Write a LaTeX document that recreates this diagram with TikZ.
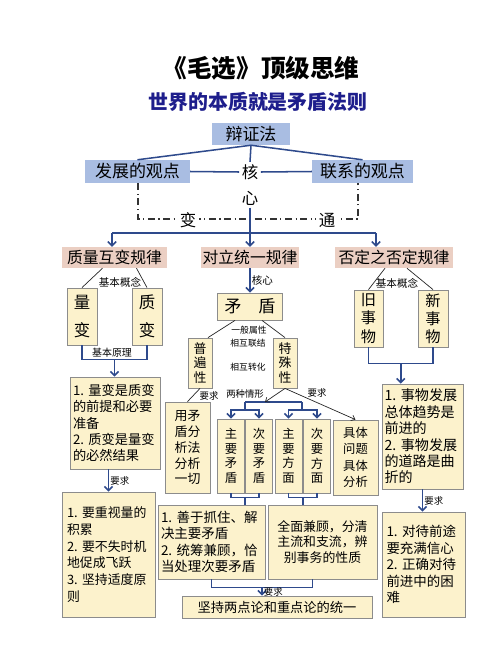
\documentclass[tikz,border=0pt]{standalone}
\usepackage{fontspec}
\setmainfont{Noto Sans CJK SC}
\usetikzlibrary{calc,arrows.meta}

\definecolor{xianlan}{HTML}{2E4A8C}
\definecolor{kuanglan}{HTML}{A9BDE2}
\definecolor{kuangfen}{HTML}{EBCFC3}
\definecolor{kuanghuang}{HTML}{FCF2CC}
\definecolor{bianhui}{HTML}{8C8C8C}
\definecolor{zilan}{HTML}{1E1E8C}
\newcommand{\zsz}[2]{\fontsize{#1}{#2}\selectfont}

\begin{document}
\begin{tikzpicture}[x=0.03cm, y=-0.03cm,
    chicun/.style 2 args={minimum width=#1*0.03cm, minimum height=#2*0.03cm},
    wenzi/.style={text width=#1*0.03cm, align=left},
    lan/.style={fill=kuanglan, inner sep=0pt, font=\zsz{14.5}{16}},
    fen/.style={fill=kuangfen, inner sep=0pt, font=\zsz{13.5}{15}},
    huang/.style={fill=kuanghuang, draw=bianhui, line width=0.7pt, inner sep=0pt},
    dazi/.style={font=\zsz{14}{16}, inner sep=2pt},
    xiaozi/.style={font=\zsz{8}{9}, inner sep=1pt},
    lanxian/.style={draw=xianlan, line width=1.3pt},
    jian/.style={lanxian, -{Straight Barb[length=3.5pt,width=7pt]}},
    heixian/.style={draw=black!85, line width=0.6pt},
    heijian/.style={heixian, -{Straight Barb[length=3pt,width=5pt]}},
    dianhua/.style={draw=black!80, line width=0.9pt, dash pattern=on 6pt off 3pt on 1pt off 3pt}
]
    \useasboundingbox (0,0) rectangle (500,667);

    % 标题
    \node[font=\zsz{21}{24}\bfseries] (biaoti) at (261,68) {《毛选》顶级思维};
    \node[font=\zsz{17}{20}\bfseries, text=zilan] (fubiaoti) at (258,102) {世界的本质就是矛盾法则};

    % 辩证法与两个观点
    \node[lan, chicun={78}{22}] (bzf) at (251,134) {辩证法};
    \node[lan, chicun={105}{23}] (fz) at (137.5,171.5) {发展的观点};
    \node[lan, chicun={101}{23}] (lx) at (362.5,171.5) {联系的观点};
    \node[dazi] (he) at (250,172) {核};
    \node[dazi] (xin) at (250,198) {心};
    \draw[lanxian] (bzf.south) -- (fz.north);
    \draw[lanxian] (bzf.south) -- (lx.north);
    \draw[lanxian] (bzf.south) -- (he.north);
    \draw[lanxian] (fz.east) -- (he.west);
    \draw[lanxian] (he.east) -- (lx.west);

    % 变与通（点划线）
    \coordinate (dz) at (138,219);
    \coordinate (dy) at (358,219);
    \draw[dianhua] (fz.south -| dz) -- (dz) -- (dy) -- (lx.south -| dy);
    \node[dazi, fill=white] (bian) at (188,220) {变};
    \node[dazi, fill=white] (tong) at (327,220) {通};

    % 三大规律
    \node[fen, chicun={105}{21}] (zl) at (114.5,257.5) {质量互变规律};
    \node[fen, chicun={98}{21}] (dl) at (250,257.5) {对立统一规律};
    \node[fen, chicun={118}{21}] (fd) at (394,257.5) {否定之否定规律};
    \coordinate (hz) at (112,233);
    \coordinate (hy) at (376,233);
    \draw[lanxian] (hz) -- (hy);
    \draw[jian] (xin.south) -- (dl.north);
    \draw[jian] (hz) -- (hz |- zl.north);
    \draw[jian] (hy) -- (hy |- fd.north);

    % 质量互变规律
    \node[huang, chicun={30}{57}, font=\zsz{14}{24}, align=center] (lb) at (82,316.5) {量\\变};
    \node[huang, chicun={30}{57}, font=\zsz{14}{24}, align=center] (zb) at (147,316.5) {质\\变};
    \draw[heixian] ($(zl.south)+(-12,0)$) -- (lb.north);
    \draw[heixian] ($(zl.south)+(22,0)$) -- (zb.north);
    \node[xiaozi, font=\zsz{9}{10}] (jbgn1) at (120,282) {基本概念};
    \node[huang, chicun={90}{92}, wenzi=84, font=\zsz{11.3}{14}] (b1) at (115,423)
        {1.~量变是质变\\的前提和必要\\准备\\2.~质变是量变\\的必然结果};
    \node[huang, chicun={93}{125}, wenzi=83, font=\zsz{11}{14.3}] (b2) at (108.5,554.5)
        {1.~要重视量的\\积累\\2.~要不失时机\\地促成飞跃\\3.~坚持适度原\\则};
    \draw[lanxian] (lb.south) -- ++(0,14) -| (zb.south);
    \coordinate (lz) at ($(lb.south)!0.5!(zb.south)+(0,14)$);
    \node[xiaozi, font=\zsz{8.5}{9}] (jbyl) at (112,353) {基本原理};
    \draw[jian] (lz) -- (lz |- b1.north);
    \draw[jian] (b1.south -| b2.north) -- (b2.north) node[midway, right, xiaozi] (yq1) {要求};

    % 对立统一规律
    \node[huang, chicun={65}{27}, font=\zsz{14.5}{16}] (md) at (250,306.5) {矛\hspace{1em}盾};
    \draw[jian] (dl.south) -- (md.north) node[midway, right, xiaozi, font=\zsz{9}{10}] (hx) {核心};
    \node[huang, chicun={24}{50}, font=\zsz{11}{12.5}, align=center] (pb) at (200,363) {普\\遍\\性};
    \node[huang, chicun={24}{50}, font=\zsz{11}{12.5}, align=center] (ts) at (285,363) {特\\殊\\性};
    \draw[heixian] ($(md.south)+(-15,0)$) -- ($(pb.north)+(8,0)$);
    \draw[heixian] ($(md.south)+(12,0)$) -- (ts.north);
    \node[xiaozi, font=\zsz{7.5}{8}] (ybsx) at (249,330) {一般属性};
    \node[xiaozi, font=\zsz{7.5}{8}] (xhlj) at (248,343) {相互联结};
    \node[xiaozi, font=\zsz{7.5}{8}] (xhzh) at (248,367) {相互转化};
    \node[huang, chicun={45}{91}, font=\zsz{11}{13.6}, align=center] (yf) at (187.5,447.5)
        {用矛\\盾分\\析法\\分析\\一切};
    \draw[heixian] (pb.south) -- (yf.north);
    \node[xiaozi] (yq2) at (209,396) {要求};

    % 两种情形
    \foreach \x/\t/\n in {231/{主\\要\\矛\\盾}/zm, 259/{次\\要\\矛\\盾}/cm,
                          288.5/{主\\要\\方\\面}/zf, 317/{次\\要\\方\\面}/cf}
        \node[huang, chicun={27}{74}, font=\zsz{10.5}{12.5}, align=center] (\n) at (\x,456) {\t};
    \coordinate (ml) at (245,402);
    \coordinate (mr) at (302,402);
    \coordinate (mj) at (265,402);
    \draw[lanxian] (ml) -- (mr);
    \draw[jian] (ml) -- ++(0,8) -| (zm.north);
    \draw[jian] (ml) -- ++(0,8) -| (cm.north);
    \draw[jian] (mr) -- ++(0,8) -| (zf.north);
    \draw[jian] (mr) -- ++(0,8) -| (cf.north);
    \draw[heijian] (ts.south) -- (mj);
    \node[xiaozi] (lzqx) at (245,394) {两种情形};
    \node[huang, chicun={45}{75}, font=\zsz{10.5}{14}, align=center] (jt) at (355.5,457.5)
        {具体\\问题\\具体\\分析};
    \draw[heijian] (ts.south) -- (jt.north);
    \node[xiaozi] (yq3) at (317,393) {要求};

    % 两点论和重点论
    \node[huang, chicun={107}{74}, wenzi=101, font=\zsz{11.5}{14}] (sy) at (211.5,542)
        {1.~善于抓住、解\\决主要矛盾\\2.~统筹兼顾，恰\\当处理次要矛盾};
    \node[huang, chicun={109}{74}, align=center, font=\zsz{11}{13.2}] (qm) at (322.5,542)
        {全面兼顾，分清\\主流和支流，辨\\别事务的性质};
    \draw[lanxian] (zm.south) -- ++(0,4) -| (cm.south);
    \draw[lanxian] (zf.south) -- ++(0,4) -| (cf.south);
    \coordinate (kz) at ($(zm.south)!0.5!(cm.south)+(0,4)$);
    \coordinate (ky) at ($(zf.south)!0.5!(cf.south)+(0,4)$);
    \draw[lanxian] (kz) -- (kz |- sy.north);
    \draw[lanxian] (ky) -- (ky |- qm.north);
    \node[huang, chicun={190}{22}, font=\zsz{11.3}{13}] (jc) at (277,607) {坚持两点论和重点论的统一};
    \draw[lanxian] (sy.south) -- ++(0,8) -| ($(qm.south)+(-10,0)$);
    \coordinate (kd) at ($(sy.south)!0.5!(qm.south)+(-5,8)$);
    \draw[jian] (kd) -- (kd |- jc.north) node[midway, right, xiaozi] (yq4) {要求};

    % 否定之否定规律
    \node[huang, chicun={29}{57}, font=\zsz{13}{15.5}, align=center] (jw) at (368.5,318.5) {旧\\事\\物};
    \node[huang, chicun={30}{57}, font=\zsz{13}{15.5}, align=center] (xw) at (433,318.5) {新\\事\\物};
    \draw[heixian] ($(fd.south)+(-9,0)$) -- (jw.north);
    \draw[heixian] ($(fd.south)+(13,0)$) -- (xw.north);
    \node[xiaozi, font=\zsz{9}{10}] (jbgn2) at (397,283) {基本概念};
    \draw[lanxian] (jw.south) -- ++(0,16) -| (xw.south);
    \coordinate (jz) at ($(jw.south)!0.5!(xw.south)+(0,16)$);
    \node[huang, chicun={81}{105}, wenzi=76, font=\zsz{12}{14}] (r1) at (422.5,436.5)
        {1.~事物发展\\总体趋势是\\前进的\\2.~事物发展\\的道路是曲\\折的};
    \draw[jian] (jz) -- (jz |- r1.north);
    \node[huang, chicun={83}{105}, wenzi=74, font=\zsz{11.5}{14}] (r2) at (423.5,564.5)
        {1.~对待前途\\要充满信心\\2.~正确对待\\前进中的困\\难};
    \draw[jian] (r1.south) -- (r1.south |- r2.north) node[midway, right, xiaozi] (yq5) {要求};
\end{tikzpicture}
\end{document}
